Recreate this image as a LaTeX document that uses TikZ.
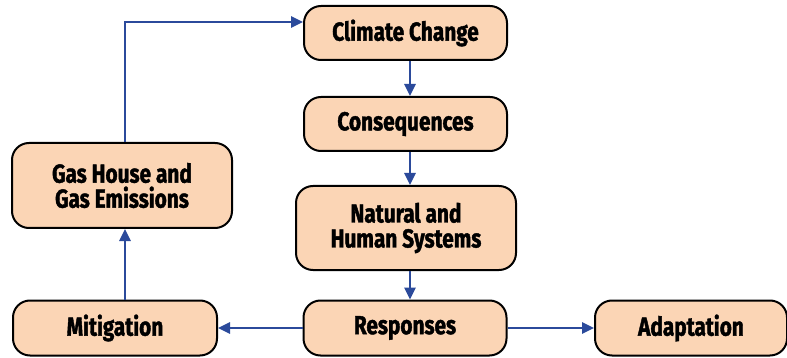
\documentclass[tikz,border=0pt]{standalone}
\usepackage{fontspec}
\setmainfont{Fira Sans}[FakeStretch=0.8, BoldFeatures={FakeBold=1.5}]
\usetikzlibrary{arrows.meta}
\definecolor{boxfill}{HTML}{FBD5B5}
\definecolor{arrowblue}{HTML}{2B4A9B}
\tikzset{
  box/.style={draw=black, line width=2pt, fill=boxfill, rounded corners=17pt,
    align=center, font=\fontsize{26}{25}\selectfont\bfseries, inner sep=0pt},
  conn/.style={draw=arrowblue, line width=2.6pt, -{Triangle[length=12pt,width=11pt]}}
}
\begin{document}
\begin{tikzpicture}[x=1pt,y=-1pt]
\useasboundingbox (0,0) rectangle (787,358);
\node[box, minimum width=203pt, minimum height=54pt] (cc) at (405.5,33) {Climate Change};
\node[box, minimum width=203pt, minimum height=54pt] (cons) at (405.5,124) {Consequences};
\node[box, minimum width=220pt, minimum height=84pt] (nat) at (406,228) {Natural and\\Human Systems};
\node[box, minimum width=203pt, minimum height=55pt] (resp) at (405,328) {Responses};
\node[box, minimum width=192pt, minimum height=55pt] (adap) at (691,328) {Adaptation};
\node[box, minimum width=204pt, minimum height=55pt] (mit) at (115,328) {Mitigation};
\node[box, minimum width=220pt, minimum height=85pt] (gas) at (122,185.5) {Gas House and\\Gas Emissions};
\coordinate (corner) at (125,22);
\coordinate (vx) at (410,0);
\draw[conn] (cc.south -| vx) -- (cons.north -| vx);
\draw[conn] (cons.south -| vx) -- (nat.north -| vx);
\draw[conn] (nat.south -| vx) -- (resp.north -| vx);
\draw[conn] (resp.east) -- (adap.west);
\draw[conn] (resp.west) -- (mit.east);
\draw[conn] (mit.north -| corner) -- (gas.south -| corner);
\draw[conn] (gas.north -| corner) -- (corner) -- (cc.west |- corner);
\end{tikzpicture}
\end{document}
